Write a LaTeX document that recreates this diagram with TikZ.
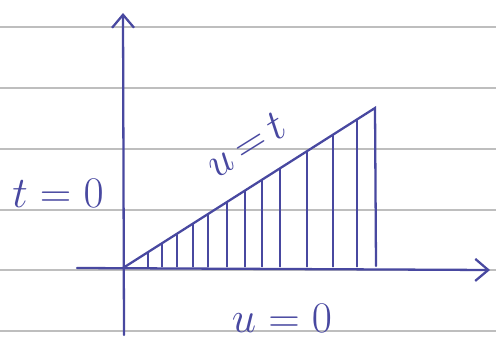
\documentclass[tikz,border=0pt]{standalone}
\usepackage{tikz}
\usetikzlibrary{arrows.meta,positioning,calc}
\definecolor{ink}{RGB}{72,72,160}
\definecolor{rule}{RGB}{190,190,190}

\begin{document}
\begin{tikzpicture}[x=0.02cm,y=-0.02cm,>={Straight Barb[length=2.6mm,width=4.4mm]},
  pen/.style={ink,line width=1.3pt,line cap=round},
  hatch/.style={ink,line width=1.1pt},
  label/.style={ink,font=\fontsize{27}{30}\selectfont,inner sep=0pt}]
\useasboundingbox (0,0) rectangle (496,341);
% ruled paper
\foreach \ly in {27,88,149,210,270,331}
  \draw[rule,line width=1pt] (0,\ly) -- (496,\ly);
% axes
\coordinate (O) at (123,268);
\coordinate (xstart) at (77,268);
\coordinate (xend) at (490,270);
\coordinate (ystart) at (124,335);
\coordinate (yend) at (123,13);
\draw[pen,->] (xstart) -- (xend);
\draw[pen,->] (ystart) -- (yend);
% region between u=0 and u=t
\coordinate (P) at (375,108);
\coordinate (Q) at (376,266);
\draw[pen] (O) -- (P) -- (Q);
\foreach \hx in {148,162,177,193,208,227,245,262,280,307,333,357}
  \draw[hatch] ($(O)!{(\hx-123)/252}!(P)$) -- (\hx,267);
% labels
\node[label] (tzero) at (58,193) {$t=0$};
\node[label,rotate=32] (udiag) at (246,145) {$u\mkern-2mu=\mkern-2mu t$};
\node[label] (uzero) at (282,318) {$u=0$};
\end{tikzpicture}
\end{document}
